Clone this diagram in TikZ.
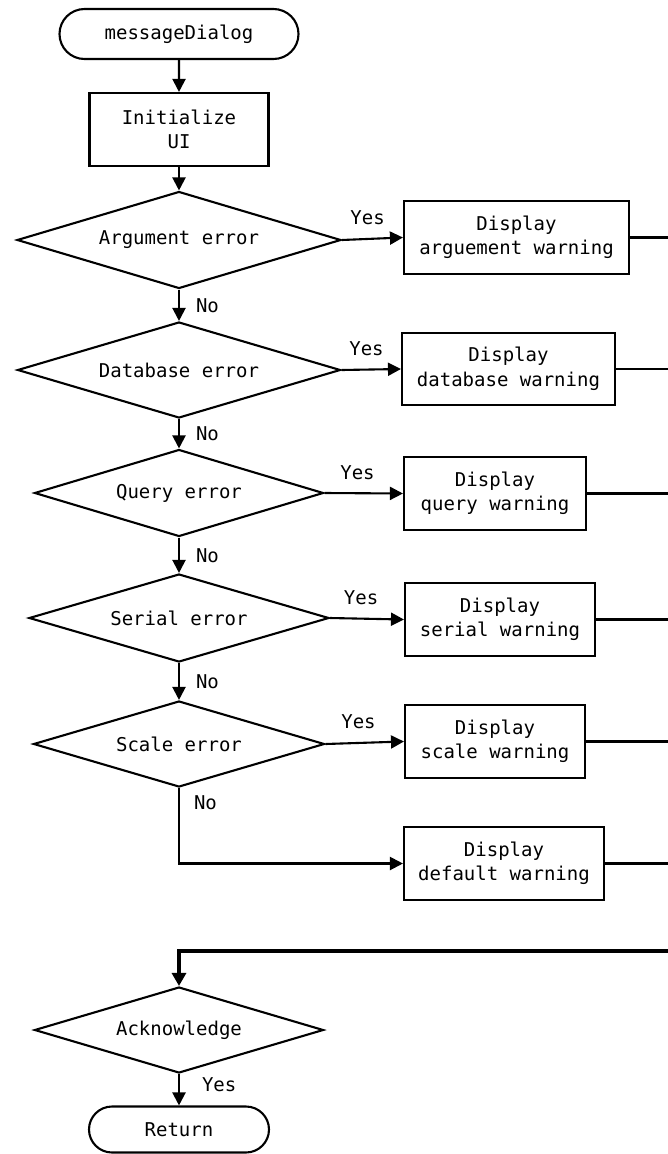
\documentclass[tikz,border=0pt]{standalone}
\usepackage{fontspec}
\setmonofont{DejaVu Sans Mono}
\usetikzlibrary{shapes.geometric,shapes.misc,arrows.meta}

\begin{document}
\begin{tikzpicture}[x=1pt,y=-1pt,
  txt/.style={font=\ttfamily\fontsize{19}{24.5}\selectfont},
  base/.style={txt, draw, line width=2.1pt, inner sep=0pt, align=center},
  term/.style={base, rounded rectangle},
  proc/.style={base, rectangle},
  dec/.style={base, diamond, aspect=3.3},
  conn/.style={line width=2.1pt},
  flow/.style={conn, -{Triangle[length=13pt,width=13pt]}},
  bus/.style={line width=3.1pt, -{Triangle[length=13pt,width=14pt]}},
  lbl/.style={txt, inner sep=0pt}]

% canvas
\fill[white, use as bounding box] (0,0) rectangle (667,1154);

% main column
\node[term, minimum width=239, minimum height=50] (start) at (179,34) {messageDialog};
\node[proc, minimum width=179, minimum height=73] (init) at (179,129.5) {Initialize\\UI};
\node[dec, minimum width=324, minimum height=97] (qarg) at (179,240) {Argument error};
\node[dec, minimum width=323, minimum height=96] (qdb)  at (179,370) {Database error};
\node[dec, minimum width=289, minimum height=87] (qqry) at (179,493) {Query error};
\node[dec, minimum width=300, minimum height=88] (qser) at (179,618) {Serial error};
\node[dec, minimum width=291, minimum height=86] (qscl) at (179,744) {Scale error};
\node[dec, minimum width=289, minimum height=86] (ack)  at (179,1030) {Acknowledge};
\node[term, minimum width=180, minimum height=46] (ret) at (179,1129.5) {Return};

% warning boxes
\node[proc, minimum width=225, minimum height=73] (warg) at (516.5,237.5) {Display\\arguement warning};
\node[proc, minimum width=213, minimum height=72] (wdb)  at (508.5,369) {Display\\database warning};
\node[proc, minimum width=182, minimum height=73] (wqry) at (495,493.5) {Display\\query warning};
\node[proc, minimum width=190, minimum height=73] (wser) at (500,619.5) {Display\\serial warning};
\node[proc, minimum width=180, minimum height=73] (wscl) at (495,741.5) {Display\\scale warning};
\node[proc, minimum width=200, minimum height=73] (wdef) at (504,863.5) {Display\\default warning};

% return rail on the right
\coordinate (railtop) at (672,237.5);
\coordinate (railbot) at (672,951);

% trunk
\draw[flow] (start) -- (init);
\draw[flow] (init) -- (qarg);
\draw[flow] (qarg.south) -- node[lbl, midway, anchor=west, xshift=16pt] {No} (qdb.north);
\draw[flow] (qdb.south) -- node[lbl, midway, anchor=west, xshift=16pt] {No} (qqry.north);
\draw[flow] (qqry.south) -- node[lbl, midway, anchor=west, xshift=16pt] {No} (qser.north);
\draw[flow] (qser.south) -- node[lbl, midway, anchor=west, xshift=16pt] {No} (qscl.north);
\draw[flow] (qscl.south) |- node[lbl, pos=0.1, anchor=west, xshift=14pt] {No} (wdef.west);
\draw[flow] (ack.south) -- node[lbl, pos=0.35, anchor=west, xshift=22pt] {Yes} (ret.north);

% yes branches
\draw[flow] (qarg.east) -- node[lbl, pos=0.42, anchor=base, yshift=14pt] {Yes} (warg.west);
\draw[flow] (qdb.east)  -- node[lbl, pos=0.42, anchor=base, yshift=14pt] {Yes} (wdb.west);
\draw[flow] (qqry.east) -- node[lbl, pos=0.42, anchor=base, yshift=14pt] {Yes} (wqry.west);
\draw[flow] (qser.east) -- node[lbl, pos=0.42, anchor=base, yshift=14pt] {Yes} (wser.west);
\draw[flow] (qscl.east) -- node[lbl, pos=0.42, anchor=base, yshift=14pt] {Yes} (wscl.west);

% warnings join the rail
\foreach \w in {warg,wdb,wqry,wser,wscl,wdef}
  \draw[conn] (\w.east) -- (\w.east -| railtop);
\draw[conn] (railtop) -- (railbot);
\draw[bus] (railbot) -| (ack.north);
\end{tikzpicture}
\end{document}
